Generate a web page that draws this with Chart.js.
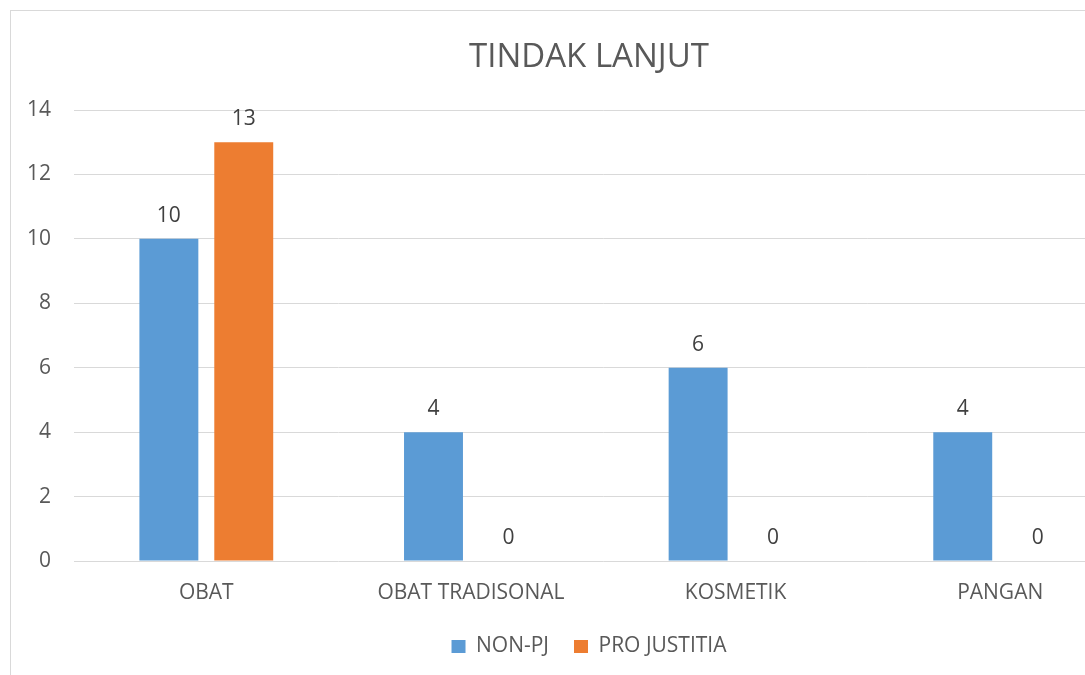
<!DOCTYPE html>
<html>
<head>
<meta charset="utf-8">
<script src="https://cdn.jsdelivr.net/npm/chart.js@4/dist/chart.umd.min.js"></script>
<style>
  html, body { margin: 0; padding: 0; background: #ffffff; overflow: hidden; width: 1085px; height: 675px; }
  #frame { position: absolute; left: 10px; top: 10px; width: 1156px; height: 680px; border: 1px solid #d9d9d9; background: #fff; }
  canvas { display: block; }
</style>
</head>
<body>
<div id="frame"><canvas id="c" width="1156" height="680"></canvas></div>
<script>
const chartTitle = 'TINDAK LANJUT';
const categories = ['OBAT', 'OBAT TRADISONAL', 'KOSMETIK', 'PANGAN'];
const seriesNames = ['NON-PJ', 'PRO JUSTITIA'];
const nonPJ = [10, 4, 6, 4];
const proJustitia = [13, 0, 0, 0];
const yTicks = [0, 2, 4, 6, 8, 10, 12, 14];

const FONT = '"Open Sans", "Noto Sans", sans-serif';

const valueLabels = {
  id: 'valueLabels',
  afterDatasetsDraw(chart) {
    const ctx = chart.ctx;
    ctx.save();
    ctx.font = '21px ' + FONT;
    ctx.fillStyle = '#404040';
    ctx.textAlign = 'center';
    ctx.textBaseline = 'alphabetic';
    chart.data.datasets.forEach((ds, i) => {
      const meta = chart.getDatasetMeta(i);
      meta.data.forEach((bar, j) => {
        ctx.fillText(String(ds.data[j]), bar.x, bar.y - 17);
      });
    });
    ctx.restore();
  }
};

new Chart(document.getElementById('c'), {
  type: 'bar',
  data: {
    labels: categories,
    datasets: [
      { label: seriesNames[0], data: nonPJ, backgroundColor: '#5B9BD5', borderWidth: 0 },
      { label: seriesNames[1], data: proJustitia, backgroundColor: '#ED7D31', borderWidth: 0 }
    ]
  },
  options: {
    responsive: false,
    animation: false,
    devicePixelRatio: 1,
    datasets: { bar: { categoryPercentage: 0.566, barPercentage: 0.787 } },
    layout: { padding: { left: 0, right: 0, top: 0, bottom: 24 } },
    plugins: {
      tooltip: { enabled: false },
      title: {
        display: true,
        text: chartTitle,
        color: '#595959',
        font: { family: FONT, size: 33, weight: 'normal' },
        padding: { top: 27, bottom: 32.4 }
      },
      legend: {
        display: true,
        position: 'bottom',
        labels: {
          color: '#595959',
          font: { family: FONT, size: 21 },
          boxWidth: 14,
          boxHeight: 13,
          padding: 25
        }
      }
    },
    scales: {
      x: {
        grid: { display: false, drawTicks: false },
        border: { display: false },
        ticks: { color: '#595959', font: { family: FONT, size: 21 }, padding: 19, maxRotation: 0 },
        afterFit(scale) { scale.height = 50; }
      },
      y: {
        min: 0,
        max: 14,
        afterBuildTicks(scale) { scale.ticks = yTicks.map(v => ({ value: v })); },
        grid: { color: '#d9d9d9', lineWidth: 1, drawTicks: false },
        border: { display: false },
        ticks: { color: '#595959', font: { family: FONT, size: 21 }, padding: 23 },
        afterFit(scale) { scale.width = 63; }
      },
      yRight: {
        position: 'right',
        display: true,
        grid: { display: false, drawTicks: false },
        border: { display: false },
        ticks: { display: false },
        afterFit(scale) { scale.width = 34.5; }
      }
    }
  },
  plugins: [valueLabels]
});
</script>
</body>
</html>
